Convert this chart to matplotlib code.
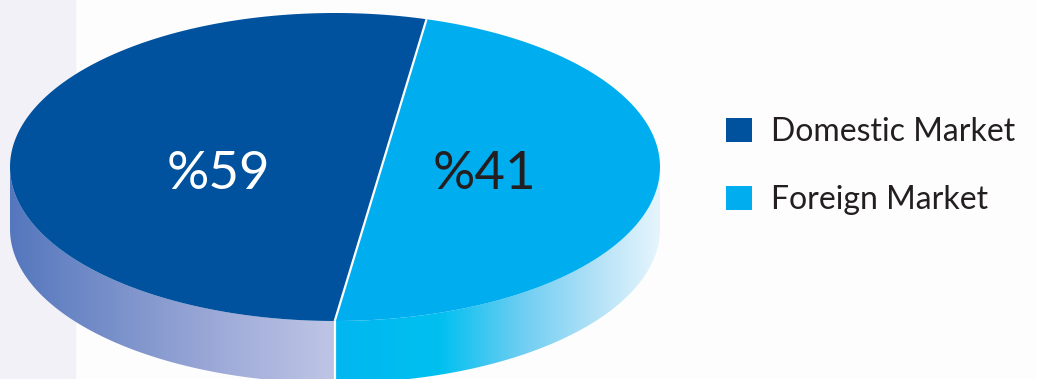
import numpy as np
import matplotlib.pyplot as plt
from matplotlib.patches import Polygon, Patch, Rectangle

# chart data
labels = ['Domestic Market', 'Foreign Market']
shares = [59, 41]
top_colors = ['#00529e', '#00aeef']
pct_colors = ['white', '#231f20']

# layout (pixels)
W, H = 1037, 379
cx, cy, a, b = 335, 167, 325, 154
depth = 62
tilt = -8.2          # direction of the divider normal, degrees
font = 'Lato'

# side wall colour stops along x (pixels) for each slice
side_stops = [
    ([10, 120, 220, 325], ['#5577bd', '#7b92cb', '#9eaad8', '#bcc3e4']),
    ([325, 440, 520, 600, 660], ['#00b6ef', '#00c0f0', '#6ccdf2', '#b6e3f7', '#e6f5fd']),
]


def hex2rgb(h):
    return np.array([int(h[i:i + 2], 16) / 255 for i in (1, 3, 5)])


def gradient(xs_px, stops, cols):
    rgb = np.array([hex2rgb(c) for c in cols])
    return np.stack([np.interp(xs_px, stops, rgb[:, k]) for k in range(3)], axis=-1)


def chord_offset(frac):
    # distance of a straight divider from the centre so that the
    # left part of the disc holds `frac` of the area
    ds = np.linspace(-0.9999, 0.9999, 20001)
    f = 0.5 + (ds * np.sqrt(1 - ds ** 2) + np.arcsin(ds)) / np.pi
    return np.interp(frac, f, ds)


# split the disc by area share
frac_left = shares[0] / sum(shares)
off = chord_offset(frac_left)
half = np.degrees(np.arccos(off))
t_top = tilt + half            # upper end of divider
t_bot = tilt - half + 360      # lower end of divider
arcs = [(t_top, t_bot), (t_bot - 360, t_top)]   # domestic (left), foreign (right)

fig = plt.figure(figsize=(W / 100, H / 100), dpi=100, facecolor='#fdfdfd')
ax = fig.add_axes([0, 0, 1, 1])
ax.set_facecolor('none')
ax.set_xlim(-cx / a, (W - cx) / a)
ax.set_ylim((cy - H) / b, cy / b)
ax.axis('off')

# faint strip of the page background on the left
ax.add_patch(Rectangle((0, 0), 75 / W, 1, transform=fig.transFigure,
                       color='#f1f1f7', zorder=0))

d = depth / b

# top faces
for (t1, t2), col in zip(arcs, top_colors):
    t = np.radians(np.linspace(t1, t2, 400))
    ax.add_patch(Polygon(np.column_stack([np.cos(t), np.sin(t)]), closed=True,
                         facecolor=col, edgecolor='none', zorder=3))

# side wall under each slice (front half only)
for (t1, t2), (stops, cols) in zip(arcs, side_stops):
    lo, hi = None, None
    for shift in (0, 360, -360):
        lo_, hi_ = max(t1 - shift, 180), min(t2 - shift, 360)
        if hi_ > lo_:
            lo, hi = lo_, hi_
            break
    if lo is None:
        continue
    t = np.radians(np.linspace(lo, hi, 300))
    xs = np.concatenate([np.cos(t), np.cos(t[::-1])])
    ys = np.concatenate([np.sin(t), np.sin(t[::-1]) - d])
    clip = Polygon(np.column_stack([xs, ys]), closed=True, transform=ax.transData)
    gx = np.linspace(-1, 1, 600)
    img = gradient(cx + gx * a, stops, cols)[None, :, :].repeat(2, axis=0)
    im = ax.imshow(img, extent=(-1, 1, -1 - d, 0), aspect='auto', zorder=1,
                   interpolation='bilinear')
    im.set_clip_path(clip)

# white divider line, on top and down the side wall
p1 = np.radians(t_top)
p2 = np.radians(t_bot)
ax.plot([np.cos(p1), np.cos(p2)], [np.sin(p1), np.sin(p2)], color='white',
        lw=1.6, zorder=4, solid_capstyle='butt')
ax.plot([np.cos(p2)] * 2, [np.sin(p2), np.sin(p2) - d], color='white',
        lw=1.6, zorder=4, solid_capstyle='butt')

# percentage labels
pct_pos = [(-0.36, -0.05), (0.46, -0.05)]
for v, (px, py), c in zip(shares, pct_pos, pct_colors):
    ax.text(px, py, f'%{v}', color=c, fontsize=38, family=font,
            ha='center', va='center', zorder=5)

handles = [Patch(facecolor=c, edgecolor='none') for c in top_colors]
leg = ax.legend(handles, labels, loc='center left',
                bbox_to_anchor=(726 / W, 1 - 166 / H), bbox_transform=fig.transFigure,
                frameon=False, prop={'family': font, 'size': 23},
                handlelength=0.8, handleheight=0.8, handletextpad=0.6,
                labelspacing=1.2, borderpad=0, borderaxespad=0)
for txt in leg.get_texts():
    txt.set_color('#231f20')

fig.savefig('out.png', dpi=100, facecolor=fig.get_facecolor())
